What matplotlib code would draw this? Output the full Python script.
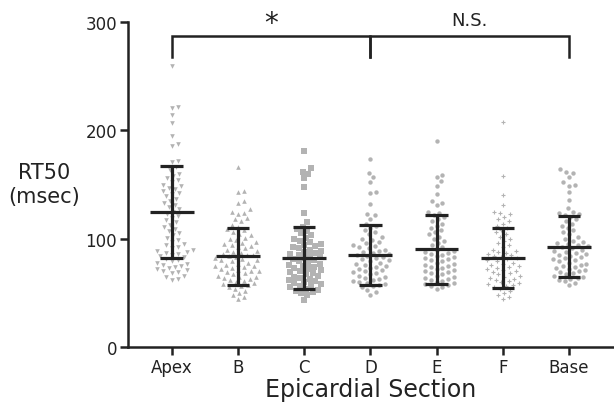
import numpy as np
import matplotlib
matplotlib.use("Agg")
import matplotlib.pyplot as plt

categories = ["Apex", "B", "C", "D", "E", "F", "Base"]

apex = [259, 222, 221, 214, 207, 195, 187, 186, 172, 171, 166, 163, 160, 158, 156, 154, 152, 150, 149, 147,
        146, 144, 142, 141, 139, 137, 135, 133, 131, 129, 127, 125, 123, 121, 119, 117, 115, 113, 111, 109,
        107, 105, 103, 101, 99, 97, 95, 94, 92, 91, 90, 89, 88, 87, 86, 85, 84, 83, 81, 80, 79, 78, 77, 76,
        75, 74, 73, 72, 71, 70, 69, 68, 66, 65, 63, 62]
sec_b = [166, 144, 143, 135, 133, 127, 125, 124, 123, 119, 118, 116, 113, 111, 109, 108, 106, 104, 103, 101,
         100, 99, 97, 96, 95, 94, 93, 92, 91, 90, 89, 88, 87, 86, 85, 85, 84, 83, 82, 81, 80, 80, 79, 78, 77,
         76, 75, 75, 74, 73, 72, 71, 70, 70, 69, 68, 67, 66, 65, 65, 64, 63, 62, 61, 60, 59, 58, 57, 56, 55,
         54, 52, 50, 48, 46, 44]
sec_c = [181, 165, 162, 160, 156, 148, 124, 115, 111, 109, 107, 105, 103, 101, 100, 98, 97, 95, 94, 93, 92,
         91, 90, 89, 88, 87, 86, 85, 84, 83, 82, 81, 80, 79, 78, 77, 76, 75, 74, 73, 72, 71, 70, 69, 68, 67,
         66, 65, 64, 63, 62, 61, 60, 59, 58, 57, 56, 55, 54, 53, 52, 51, 50, 48, 43]
sec_d = [174, 161, 157, 152, 143, 142, 132, 123, 122, 118, 114, 112, 110, 108, 106, 104, 102, 100, 99, 97, 96,
         94, 93, 92, 91, 90, 89, 88, 87, 86, 85, 84, 83, 82, 81, 80, 79, 78, 77, 76, 75, 74, 73, 72, 71, 70,
         69, 68, 67, 66, 65, 64, 63, 62, 61, 60, 59, 58, 57, 56, 55, 53, 51, 48]
sec_e = [190, 159, 157, 153, 149, 141, 135, 133, 131, 125, 124, 122, 120, 118, 116, 114, 112, 110, 108, 106,
         104, 102, 100, 98, 96, 94, 92, 90, 89, 88, 87, 86, 85, 84, 83, 82, 81, 80, 79, 78, 77, 76, 75, 74,
         73, 72, 71, 70, 69, 68, 67, 66, 65, 64, 63, 62, 61, 60, 59, 58, 57, 56, 55, 54]
sec_f = [208, 158, 140, 131, 125, 124, 123, 120, 118, 116, 114, 112, 110, 108, 106, 104, 102, 100, 98, 96, 94,
         92, 90, 89, 88, 87, 86, 85, 84, 83, 82, 81, 80, 79, 78, 77, 76, 75, 74, 73, 72, 71, 70, 69, 68, 67,
         66, 65, 64, 63, 62, 61, 60, 59, 58, 57, 56, 55, 54, 52, 50, 48, 46, 44]
base = [164, 162, 161, 157, 152, 150, 149, 143, 136, 128, 125, 124, 123, 122, 120, 118, 116, 114, 112, 110,
        108, 106, 104, 102, 100, 98, 97, 96, 95, 94, 93, 92, 91, 90, 89, 88, 87, 86, 85, 84, 83, 82, 81, 80,
        79, 78, 77, 76, 75, 74, 73, 72, 71, 70, 69, 68, 67, 66, 65, 64, 63, 62, 61, 59, 57]

means = [124.6, 84.0, 82.0, 85.0, 90.5, 82.0, 92.6]
sd_upper = [166.8, 110.0, 110.5, 112.6, 121.8, 110.0, 121.2]
sd_lower = [82.0, 57.5, 53.5, 57.0, 58.5, 54.8, 64.3]

groups = [apex, sec_b, sec_c, sec_d, sec_e, sec_f, base]
markers = ["v", "^", "s", "o", "o", "+", "o"]
msizes = [11, 11, 13, 10, 10, 10, 10]
spacing_px = [6.0, 6.0, 5.6, 5.8, 5.8, 5.8, 5.8]

yticks = [0, 100, 200, 300]
bracket_y = 287
bracket_drop = 268
annotations = ["*", "N.S."]

W, H, DPI = 614, 406, 100
fig = plt.figure(figsize=(W / DPI, H / DPI), dpi=DPI)
left_px, right_px, bottom_px, top_px = 128, 614, 348, 23
ax = fig.add_axes([left_px / W, 1 - bottom_px / H, (right_px - left_px) / W, (bottom_px - top_px) / H])
xmin, xmax = -0.66, 6.68
ax.set_xlim(xmin, xmax)
ax.set_ylim(0, 300)

px_per_x = (right_px - left_px) / (xmax - xmin)
px_per_y = (bottom_px - top_px) / 300.0

grey = "#b3b3b3"


def swarm(values, d):
    ys = np.array(values, dtype=float) * px_per_y
    order = np.argsort(ys)
    placed = []
    offs = np.zeros(len(ys))
    cands = [0.0]
    for k in range(1, 80):
        cands += [k * d * 0.25, -k * d * 0.25]
    for i in order:
        y = ys[i]
        near = [(px, py) for (px, py) in placed if abs(py - y) < d]
        for c in cands:
            if all((px - c) ** 2 + (py - y) ** 2 >= d * d for (px, py) in near):
                offs[i] = c
                placed.append((c, y))
                break
    return offs / px_per_x


for i, vals in enumerate(groups):
    offs = swarm(vals, spacing_px[i])
    kw = dict(s=msizes[i], marker=markers[i], zorder=2, clip_on=False, color=grey)
    kw.update(linewidths=0.8 if markers[i] == "+" else 0)
    ax.scatter(i + offs, vals, **kw)

xs = np.arange(len(categories))
ink = "#222222"
for i in xs:
    ax.plot([i - 0.33, i + 0.33], [means[i], means[i]], color=ink, lw=2.3, zorder=3, solid_capstyle="butt")
    ax.plot([i, i], [sd_lower[i], sd_upper[i]], color=ink, lw=2.3, zorder=3, solid_capstyle="butt")
    for yv in (sd_lower[i], sd_upper[i]):
        ax.plot([i - 0.17, i + 0.17], [yv, yv], color=ink, lw=2.3, zorder=3, solid_capstyle="butt")

# significance brackets
bk = dict(color=ink, lw=1.8, clip_on=False, solid_joinstyle="miter")
ax.plot([0, 0, 3, 3], [bracket_drop, bracket_y, bracket_y, bracket_drop], **bk)
ax.plot([3, 3, 6, 6], [bracket_drop, bracket_y, bracket_y, bracket_drop], **bk)
ax.text(1.5, 299, annotations[0], ha="center", va="center", fontsize=20, color=ink)
ax.text(4.5, 302, annotations[1], ha="center", va="center", fontsize=13, color=ink)

for s in ["top", "right"]:
    ax.spines[s].set_visible(False)
for s in ["left", "bottom"]:
    ax.spines[s].set_linewidth(1.8)
    ax.spines[s].set_color(ink)
ax.set_yticks(yticks)
ax.set_xticks(xs)
ax.set_xticklabels(categories)
ax.tick_params(axis="both", length=6, width=1.8, color=ink, labelsize=12, labelcolor=ink)
ax.tick_params(axis="y", pad=2)
ax.tick_params(axis="x", pad=2)

fig.text(44 / W, 1 - 185 / H, "RT50\n(msec)", ha="center", va="center", fontsize=15, color=ink,
         linespacing=1.3)
fig.text(371 / W, 1 - 390 / H, "Epicardial Section", ha="center", va="center", fontsize=17, color=ink)

fig.savefig("out.png", dpi=DPI)
